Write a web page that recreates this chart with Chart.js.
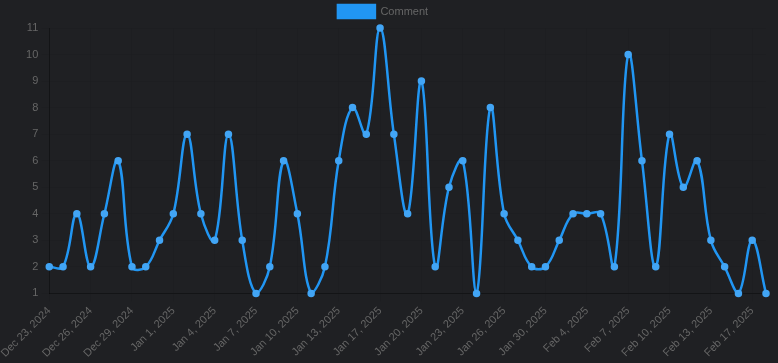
<!DOCTYPE html>
<html>
<head>
<meta charset="utf-8">
<script src="https://cdn.jsdelivr.net/npm/chart.js@4.4.1/dist/chart.umd.min.js"></script>
<style>
  body { margin: 0; background: #1f2023; }
  #wrap { width: 778px; height: 363px; }
</style>
</head>
<body>
<div id="wrap"><canvas id="myChart"></canvas></div>
<script>
const dates = [
  "Dec 23, 2024", "Dec 24, 2024", "Dec 25, 2024", "Dec 26, 2024", "Dec 27, 2024", "Dec 28, 2024",
  "Dec 29, 2024", "Dec 30, 2024", "Dec 31, 2024", "Jan 1, 2025", "Jan 2, 2025", "Jan 3, 2025",
  "Jan 4, 2025", "Jan 5, 2025", "Jan 6, 2025", "Jan 7, 2025", "Jan 8, 2025", "Jan 9, 2025",
  "Jan 10, 2025", "Jan 11, 2025", "Jan 12, 2025", "Jan 13, 2025", "Jan 14, 2025", "Jan 16, 2025",
  "Jan 17, 2025", "Jan 18, 2025", "Jan 19, 2025", "Jan 20, 2025", "Jan 21, 2025", "Jan 22, 2025",
  "Jan 23, 2025", "Jan 24, 2025", "Jan 25, 2025", "Jan 26, 2025", "Jan 27, 2025", "Jan 29, 2025",
  "Jan 30, 2025", "Jan 31, 2025", "Feb 3, 2025", "Feb 4, 2025", "Feb 5, 2025", "Feb 6, 2025",
  "Feb 7, 2025", "Feb 8, 2025", "Feb 9, 2025", "Feb 10, 2025", "Feb 11, 2025", "Feb 12, 2025",
  "Feb 13, 2025", "Feb 14, 2025", "Feb 16, 2025", "Feb 17, 2025", "Feb 18, 2025"
];
const comments = [
  2, 2, 4, 2, 4, 6, 2, 2, 3, 4, 7, 4, 3, 7, 3, 1, 2, 6, 4, 1, 2, 6, 8, 7,
  11, 7, 4, 9, 2, 5, 6, 1, 8, 4, 3, 2, 2, 3, 4, 4, 4, 2, 10, 6, 2, 7, 5, 6,
  3, 2, 1, 3, 1
];
// show every third date on the axis
const labelEvery = 3;

Chart.defaults.font.family = "'Liberation Sans', Arial, sans-serif";
Chart.defaults.font.size = 11;

const ctx = document.getElementById("myChart").getContext("2d");
const myChart = new Chart(ctx, {
  type: "line",
  data: {
    labels: dates,
    datasets: [
      {
        label: "Comment",
        data: comments,
        borderColor: "#2196f3",
        backgroundColor: "#2196f3",
        pointBackgroundColor: "#42a5f5",
        pointBorderColor: "#42a5f5",
        pointRadius: 2.5,
        borderWidth: 2.5,
        tension: 0.4
      }
    ]
  },
  options: {
    responsive: true,
    maintainAspectRatio: false,
    animation: false,
    layout: { padding: { right: 12 } },
    plugins: {
      legend: {
        labels: { color: "#666", boxWidth: 37, boxHeight: 13, padding: 5 }
      }
    },
    scales: {
      y: {
        grid: { color: "rgba(0,0,0,0.04)" },
        border: { color: "rgba(0,0,0,0.35)" },
        ticks: { color: "#666", stepSize: 1 }
      },
      x: {
        grid: { color: "rgba(0,0,0,0.04)" },
        border: { color: "rgba(0,0,0,0.35)" },
        ticks: {
          color: "#666",
          autoSkip: false,
          maxRotation: 45,
          minRotation: 45,
          callback: function(value, index) {
            return index % labelEvery === 0 ? dates[index] : null;
          }
        }
      }
    }
  }
});
</script>
</body>
</html>
